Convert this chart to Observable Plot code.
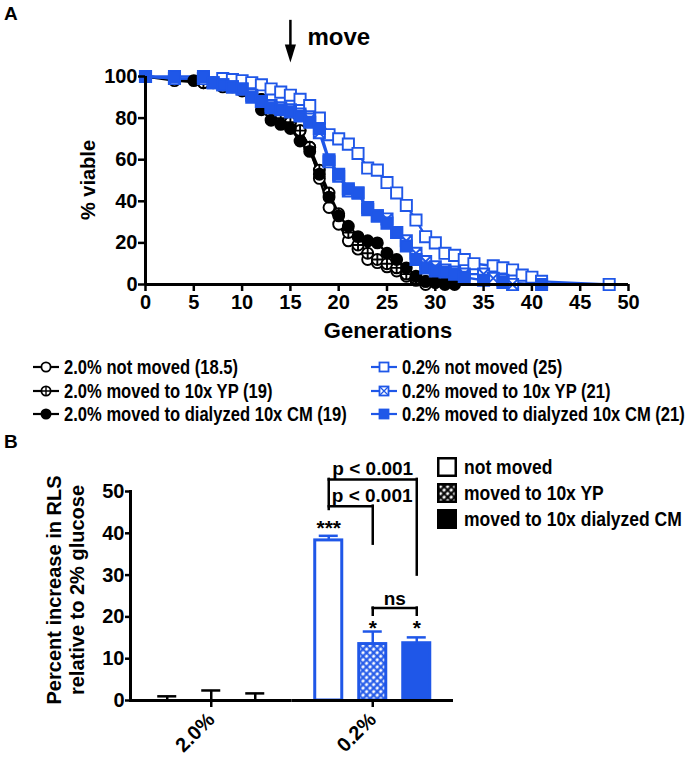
<!DOCTYPE html>
<html><head><meta charset="utf-8">
<script src="https://cdn.jsdelivr.net/npm/d3@7"></script>
<script src="https://cdn.jsdelivr.net/npm/@observablehq/plot@0.6"></script>
<style>
body{margin:0;background:#fff}
#wrap{position:relative;width:687px;height:758px;overflow:hidden;font-family:"Liberation Sans",Arial,sans-serif;font-weight:bold;color:#000}
.abs{position:absolute;white-space:nowrap}
.rot{transform:translate(-50%,-50%) rotate(-90deg);text-align:center}
.lg{position:absolute;display:flex;align-items:center;white-space:nowrap;height:22px;line-height:22px}
.lg span{display:inline-block;transform-origin:0 50%}
</style></head><body>
<svg width="0" height="0" style="position:absolute"><defs>
<pattern id="hatchBlue" width="5" height="5" patternUnits="userSpaceOnUse" patternTransform="rotate(45)"><rect width="5" height="5" fill="white"/><path d="M0,2.5H5M2.5,0V5" stroke="#1f57e8" stroke-width="2.2"/></pattern>
<pattern id="hatchBlack" width="5" height="5" patternUnits="userSpaceOnUse" patternTransform="rotate(45)"><rect width="5" height="5" fill="white"/><path d="M0,2.5H5M2.5,0V5" stroke="black" stroke-width="2.2"/></pattern>
</defs></svg>
<div id="wrap">
  <div class="abs" style="left:4px;top:3px;font-size:19px;line-height:22px">A</div>
  <div id="plotA" class="abs" style="left:0;top:0"></div>
  <div class="abs rot" style="left:88px;top:180px;font-size:20px">% viable</div>
  <div class="abs" style="left:388px;top:331px;transform:translate(-50%,-50%);font-size:22px">Generations</div>
  <div id="legA"></div>
  <div class="abs" style="left:4px;top:431px;font-size:19px;line-height:22px">B</div>
  <div id="plotB" class="abs" style="left:0;top:430px"></div>
  <div class="abs rot" style="left:66px;top:590px;font-size:20px;line-height:23px">Percent increase in RLS<br>relative to 2% glucose</div>
  <div id="legB"></div>
</div>
<script>
const BLUE = "#1f57e8";

// ---------- Panel A data (survival curves) ----------
const seriesA = ["2.0% not moved (18.5)", "2.0% moved to 10x YP (19)", "2.0% moved to dialyzed 10x CM (19)",
                 "0.2% not moved (25)", "0.2% moved to 10x YP (21)", "0.2% moved to dialyzed 10x CM (21)"];
const gen20Not = [0,3,6,8,10,11,12,13,14,15,16,17,18,19,20,21,22,23,24,25,26,27,28,29];
const via20Not = [100,98,97,95,93,91,89,86,81,78,74,66,51,37,29,21,17,12,10.5,8.5,6.5,4,2,0];
const gen20YP  = [0,3,6,8,10,11,12,13,14,15,16,17,18,19,20,21,22,23,24,25,26,27,28,29,30,31];
const via20YP  = [100,99,97,96,94,92,89,85,80,78,74,66,55,44,34,25,19,15,12,10,8,5,3,1.5,1,0];
const gen20CM  = [0,3,5,7,9,10,11,12,13,14,15,16,17,18,19,20,21,22,23,24,25,26,27,28,29,30,31,32];
const via20CM  = [100,99,98,97,95,94,91,84,79,77,75,69,64,53,42,33,28,23,21,20,15,12,8,4,1.5,1,0.8,0];
const gen02Not = [0,3,6,8,9,10,11,12,13,14,15,16,17,18,19,20,21,22,23,24,25,26,27,28,29,30,31,32,33,34,36,37,38,39,40,41,48];
const via02Not = [100,99,99,99,98.5,98,97,96,94,92.5,91,89,86,80,72,70,67.5,63,56,55,49,44,38,31,23,20,15,14,12,10,9,8,7,4.5,3.5,1.5,0];
const gen02YP  = [0,3,6,7,8,9,10,11,12,13,14,15,16,17,18,19,20,21,22,23,24,25,26,27,28,29,30,31,32,33,35,36,37,38];
const via02YP  = [100,99,99,97,96,95,94,91,88,86,85,84,82,79.5,73,59,52,45,44,37,33,31.5,25,21,15,11,8.5,7,6,5,5,3,2,0];
const gen02CM  = [0,3,6,7,8,9,10,11,12,13,14,15,16,17,18,19,20,21,22,23,24,25,26,27,28,29,30,31,32,33,35,37,41];
const via02CM  = [100,100,100,97,96,95,94,90,88,85,84,83,81,78,75,60,53,46,44,36,33,29.5,25,18.5,12,8,6.5,6,5,3.5,2,1,0];
const xTicksA = [0,5,10,15,20,25,30,35,40,45,50];
const yTicksA = [0,20,40,60,80,100];
const moveAt = 15;

// ---------- Panel B data ----------
const groupsB = ["2.0%", "0.2%"];
const condsB = ["not moved", "moved to 10x YP", "moved to 10x dialyzed CM"];
const rls20 = [0, 0, 0];
const sem20 = [1.0, 2.4, 1.7];
const rls02 = [38.3, 13.5, 13.7];
const sem02 = [1.1, 3.0, 1.4];
const yTicksB = [0,10,20,30,40,50];

// ---------- symbols ----------
const circleCross = {draw(c, size){const r=Math.sqrt(size/Math.PI); c.moveTo(r,0); c.arc(0,0,r,0,2*Math.PI); c.moveTo(-r,0); c.lineTo(r,0); c.moveTo(0,-r); c.lineTo(0,r);}};
const squareX = {draw(c, size){const s=Math.sqrt(size)/2; c.moveTo(-s,-s); c.lineTo(s,-s); c.lineTo(s,s); c.lineTo(-s,s); c.closePath(); c.moveTo(-s,-s); c.lineTo(s,s); c.moveTo(s,-s); c.lineTo(-s,s);}};
const downTri = {draw(c, size){const r=Math.sqrt(size/Math.PI); c.moveTo(-0.62*r,-r); c.lineTo(0.62*r,-r); c.lineTo(0,r); c.closePath();}};

const gens = [gen20Not, gen20YP, gen20CM, gen02Not, gen02YP, gen02CM];
const vias = [via20Not, via20YP, via20CM, via02Not, via02YP, via02CM];
const styleA = [
  {stroke:"black", fill:"white", symbol:"circle", r:5.5},
  {stroke:"black", fill:"white", symbol:circleCross, r:5.5},
  {stroke:"black", fill:"black", symbol:"circle", r:5.5},
  {stroke:BLUE, fill:"white", symbol:"square", r:6.3},
  {stroke:BLUE, fill:"white", symbol:squareX, r:6.3},
  {stroke:BLUE, fill:BLUE, symbol:"square", r:6.3}
];
const rowsA = seriesA.map((s, i) => gens[i].map((g, j) => ({series: s, gen: g, viable: vias[i][j]})));

const marksA = [];
rowsA.forEach((rows, i) => {
  const st = styleA[i];
  marksA.push(Plot.line(rows, {x:"gen", y:"viable", stroke: st.stroke, strokeWidth: 2.4}));
});
rowsA.forEach((rows, i) => {
  const st = styleA[i];
  marksA.push(Plot.dot(rows, {x:"gen", y:"viable", symbol: st.symbol, r: st.r, fill: st.fill, stroke: st.stroke, strokeWidth: 1.9}));
});

function squeeze(svg, label, k) {
  d3.select(svg).selectAll(`g[aria-label="${label}"] text`).each(function() {
    const t = this.getAttribute("transform") || "";
    this.setAttribute("transform", t + ` scale(${k},1)`);
  });
}

const plotA = Plot.plot({
  width: 687, height: 345,
  marginLeft: 145, marginRight: 59, marginTop: 76, marginBottom: 61,
  x: {domain: [0, 50]},
  y: {domain: [0, 100]},
  style: {fontFamily: '"Liberation Sans", Arial, sans-serif', fontWeight: "bold", fontSize: "20px", color: "black", background: "transparent", overflow: "visible"},
  marks: [
    ...marksA,
    Plot.ruleX([0], {strokeWidth: 3}),
    Plot.ruleY([0], {strokeWidth: 3}),
    Plot.axisX({ticks: xTicksA, tickSize: 7, tickPadding: 3, strokeWidth: 2.5, fontSize: 20, fontWeight: "bold", label: null}),
    Plot.axisY({ticks: yTicksA, tickSize: 7, tickPadding: 1, strokeWidth: 2.5, fontSize: 20, fontWeight: "bold", label: null}),
    Plot.ruleX([moveAt], {y1: 127, y2: 114, strokeWidth: 2.5}),
    Plot.dot([moveAt], {x: d => d, y: () => 111, symbol: downTri, r: 9, fill: "black", stroke: "none"}),
    Plot.text([{g: moveAt, v: 118.9, t: "move"}], {x: "g", y: "v", text: "t", textAnchor: "start", dx: 17, fontSize: 24, fontWeight: "bold", ariaLabel: "narrow"})
  ]
});
squeeze(plotA, "narrow", 0.86);
document.getElementById("plotA").append(plotA);

// ---------- Legend A ----------
function legSym(i){
  const st = styleA[i];
  let m;
  if (st.symbol === "circle") m = `<circle cx="13" cy="8" r="4.6" fill="${st.fill}" stroke="${st.stroke}" stroke-width="1.8"/>`;
  else if (st.symbol === circleCross) m = `<circle cx="13" cy="8" r="4.6" fill="white" stroke="${st.stroke}" stroke-width="1.8"/><path d="M8.4,8H17.6M13,3.4V12.6" stroke="${st.stroke}" stroke-width="1.4"/>`;
  else if (st.symbol === "square") m = `<rect x="8.5" y="3.5" width="9" height="9" fill="${st.fill}" stroke="${st.stroke}" stroke-width="1.8"/>`;
  else m = `<rect x="8.5" y="3.5" width="9" height="9" fill="white" stroke="${st.stroke}" stroke-width="1.8"/><path d="M8.5,3.5L17.5,12.5M17.5,3.5L8.5,12.5" stroke="${st.stroke}" stroke-width="1.3"/>`;
  return `<svg width="26" height="16" style="margin-right:5px;flex:none"><line x1="0" y1="8" x2="26" y2="8" stroke="${st.stroke}" stroke-width="2.2"/>${m}</svg>`;
}
const legRowY = [367, 391, 414];
const legColX = [33, 371];
const legA = document.getElementById("legA");
seriesA.forEach((s, i) => {
  const col = i < 3 ? 0 : 1, row = i % 3;
  const d = document.createElement("div");
  d.className = "lg";
  d.style.left = legColX[col] + "px";
  d.style.top = (legRowY[row] - 11) + "px";
  d.style.fontSize = "19.5px";
  d.innerHTML = legSym(i) + `<span style="transform:scaleX(0.85)">${s}</span>`;
  legA.append(d);
});

// ---------- Panel B ----------
const rowsB = [];
groupsB.forEach((g, gi) => condsB.forEach((c, ci) => {
  const mean = gi === 0 ? rls20[ci] : rls02[ci];
  const sem = gi === 0 ? sem20[ci] : sem02[ci];
  rowsB.push({group: g, cond: c, mean, hi: mean + sem});
}));
const barFill = {"2.0%": ["white", "url(#hatchBlack)", "black"], "0.2%": ["white", "url(#hatchBlue)", BLUE]};
const groupColor = {"2.0%": "black", "0.2%": BLUE};
const marksB = [];
groupsB.forEach(g => condsB.forEach((c, ci) => {
  const rows = rowsB.filter(d => d.group === g && d.cond === c);
  marksB.push(Plot.barY(rows, {fx: "group", x: "cond", y: "mean", fill: barFill[g][ci], stroke: groupColor[g], strokeWidth: 3}));
}));
groupsB.forEach(g => {
  const rows = rowsB.filter(d => d.group === g);
  marksB.push(Plot.ruleX(rows, {fx: "group", x: "cond", y1: "mean", y2: "hi", stroke: groupColor[g], strokeWidth: 2.5}));
  marksB.push(Plot.tickY(rows, {fx: "group", x: "cond", y: "hi", stroke: groupColor[g], strokeWidth: 2.5, insetLeft: 4, insetRight: 4}));
});

const brackets = [
  {group: "0.2%", a: condsB[0], b: condsB[2], y: 52.9},
  {group: "0.2%", a: condsB[0], b: condsB[1], y: 46.5},
  {group: "0.2%", a: condsB[1], b: condsB[2], y: 22.1}
];
const legs = [
  {group: "0.2%", c: condsB[0], top: 52.9, bottom: 45.7},
  {group: "0.2%", c: condsB[2], top: 52.9, bottom: 30},
  {group: "0.2%", c: condsB[1], top: 46.5, bottom: 37.4},
  {group: "0.2%", c: condsB[1], top: 22.1, bottom: 20.4},
  {group: "0.2%", c: condsB[2], top: 22.1, bottom: 20.4}
];
const pLabels = [{group: "0.2%", c: condsB[1], y: 55.3, t: "p < 0.001"}];
const pLabels2 = [{group: "0.2%", c: condsB[0], y: 48.9, t: "p < 0.001"}];
const nsLabel = [{group: "0.2%", c: condsB[1], y: 24.4, t: "ns"}];
const stars = [
  {group: "0.2%", c: condsB[0], y: 41.2, t: "***"},
  {group: "0.2%", c: condsB[1], y: 17.3, t: "*"},
  {group: "0.2%", c: condsB[2], y: 17.3, t: "*"}
];

const plotB = Plot.plot({
  width: 687, height: 328,
  marginLeft: 130, marginRight: 234, marginTop: 61, marginBottom: 58,
  fx: {domain: groupsB, paddingInner: 0, paddingOuter: 0, round: false},
  x: {domain: condsB, paddingInner: 0.386, paddingOuter: 0.528, round: false, axis: null},
  y: {domain: [0, 50]},
  style: {fontFamily: '"Liberation Sans", Arial, sans-serif', fontWeight: "bold", fontSize: "20px", color: "black", background: "transparent", overflow: "visible"},
  marks: [
    ...marksB,
    Plot.ruleY([0], {strokeWidth: 3}),
    Plot.frame({anchor: "left", facetAnchor: "left", strokeWidth: 3}),
    Plot.axisY({ticks: yTicksB, tickSize: 5, tickPadding: 1, strokeWidth: 2.5, fontSize: 20, fontWeight: "bold", label: null}),
    Plot.axisFx({anchor: "bottom", tickSize: 7, tickPadding: 9, tickRotate: -45, strokeWidth: 2.5, fontSize: 20, fontWeight: "bold", label: null}),
    Plot.link(brackets, {fx: "group", x1: "a", x2: "b", y1: "y", y2: "y", strokeWidth: 2.5, strokeLinecap: "square"}),
    Plot.ruleX(legs, {fx: "group", x: "c", y1: "top", y2: "bottom", strokeWidth: 2.5, strokeLinecap: "square"}),
    Plot.text(pLabels, {fx: "group", x: "c", y: "y", text: "t", fontSize: 19, fontWeight: "bold", ariaLabel: "narrow"}),
    Plot.text(pLabels2, {fx: "group", x: "c", y: "y", text: "t", textAnchor: "start", dx: 3, fontSize: 19, fontWeight: "bold", ariaLabel: "narrow"}),
    Plot.text(nsLabel, {fx: "group", x: "c", y: "y", text: "t", dx: 22, fontSize: 19, fontWeight: "bold", ariaLabel: "narrow"}),
    Plot.text(stars, {fx: "group", x: "c", y: "y", text: "t", fontSize: 21, fontWeight: "bold"})
  ]
});
squeeze(plotB, "narrow", 0.85);
document.getElementById("plotB").append(plotB);

// ---------- Legend B ----------
const legBFill = ["white", "url(#hatchBlack)", "black"];
const legBY = [467, 493, 519];
const legB = document.getElementById("legB");
condsB.forEach((c, i) => {
  const d = document.createElement("div");
  d.className = "lg";
  d.style.left = "437px";
  d.style.top = (legBY[i] - 11) + "px";
  d.style.fontSize = "20px";
  d.innerHTML = `<svg width="20" height="20" style="margin-right:7px;flex:none"><rect x="1.25" y="1.25" width="17.5" height="17.5" fill="${legBFill[i]}" stroke="black" stroke-width="2.5"/></svg><span style="transform:scaleX(0.875)">${c}</span>`;
  legB.append(d);
});
</script>
</body></html>
